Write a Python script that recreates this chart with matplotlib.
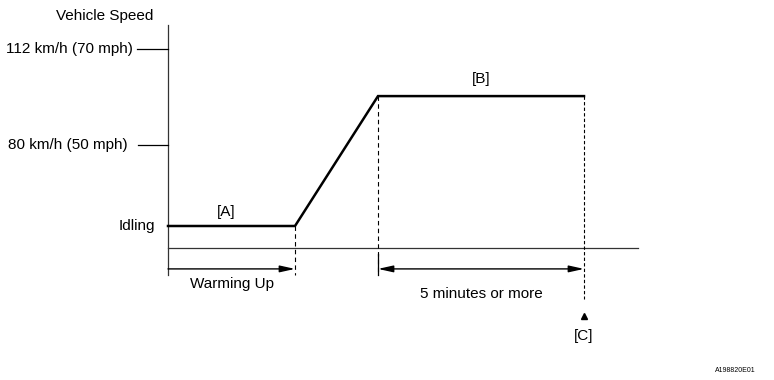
import matplotlib
matplotlib.use("Agg")
import matplotlib.pyplot as plt

plt.rcParams['font.family'] = ['Liberation Sans', 'DejaVu Sans']

# schematic time axis (arbitrary units) and speed levels (km/h scale)
t_profile = [0, 127, 210, 416]
v_profile = [53, 53, 96.3, 96.3]
v_base = 45.7
t_axis_end = 470
speed_ticks = [80, 112]
speed_labels = ["80 km/h (50 mph)", "112 km/h (70 mph)"]
idle_label = "Idling"
warm_label = "Warming Up"
hold_label = "5 minutes or more"

fig = plt.figure(figsize=(7.74, 3.8), dpi=100)
ax = fig.add_axes([0, 0, 1, 1])
ax.set_xlim(-168, 606)
ax.set_ylim(1.67, 128.33)
ax.axis('off')

k = 'black'
fs = 11
# axes
ax.plot([0, 0], [v_base - 9, 120], color='#333333', lw=0.9)
ax.plot([0, t_axis_end], [v_base, v_base], color='#333333', lw=0.9)
ax.text(-63, 123, "Vehicle Speed", fontsize=fs, ha='center', va='center')

# speed ticks
for v, lab, x0, gap in zip(speed_ticks, speed_labels, [-30, -31], [10, 4]):
    ax.plot([x0, 0], [v, v], color=k, lw=0.9)
    ax.text(x0 - gap, v, lab, fontsize=fs, ha='right', va='center')
ax.text(-13, v_profile[0], idle_label, fontsize=fs, ha='right', va='center')

# speed profile
ax.plot(t_profile, v_profile, color=k, lw=1.8, solid_joinstyle='miter')

# dashed guides
ax.plot([t_profile[1]] * 2, [v_profile[1], v_base - 9], color=k, lw=0.8, ls=(0, (4, 3)))
ax.plot([t_profile[2]] * 2, [v_profile[2], v_base - 9], color=k, lw=0.8, ls=(0, (4, 3)))
ax.plot([t_profile[3]] * 2, [v_profile[3], v_base - 17], color=k, lw=0.8, ls=(0, (3, 2)))

# phase labels
ax.text(58, 57.6, "[A]", fontsize=fs, ha='center', va='center')
ax.text(313, 101.9, "[B]", fontsize=fs, ha='center', va='center')

# bracket arrows
y_arr = v_base - 7
ax.plot([t_profile[2]] * 2, [v_base - 2, v_base - 9], color=k, lw=0.9)
ax.annotate("", xy=(t_profile[1], y_arr), xytext=(0, y_arr),
            arrowprops=dict(arrowstyle='-|>,head_length=0.9,head_width=0.2', color=k, lw=1.0,
                            shrinkA=0, shrinkB=0))
ax.annotate("", xy=(t_profile[3], y_arr), xytext=(t_profile[2], y_arr),
            arrowprops=dict(arrowstyle='<|-|>,head_length=0.9,head_width=0.2', color=k, lw=1.0,
                            shrinkA=0, shrinkB=0))
ax.text(t_profile[1] / 2, v_base - 12, warm_label, fontsize=fs, ha='center', va='center')
ax.text((t_profile[2] + t_profile[3]) / 2, v_base - 15.3, hold_label, fontsize=fs,
        ha='center', va='center')

# point [C]
ax.plot([t_profile[3]], [v_base - 22.6], marker='^', color=k, ms=5, ls='none')
ax.text(t_profile[3], v_base - 29.3, "[C]", fontsize=fs, ha='center', va='center')

ax.text(567, v_base - 40.7, "A198820E01", fontsize=5, ha='center', va='center')

fig.savefig('out.png', dpi=100)
